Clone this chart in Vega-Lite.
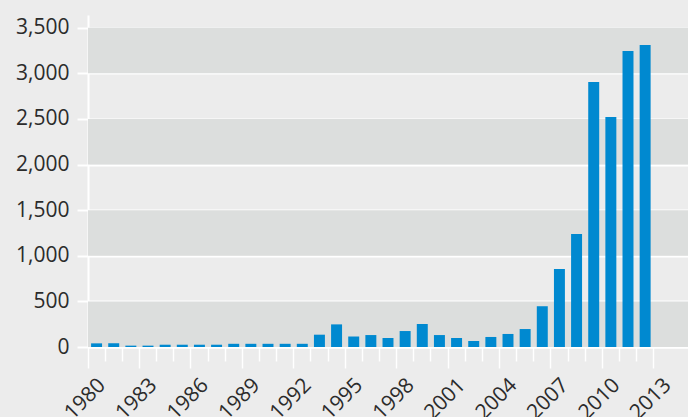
{
  "$schema": "https://vega.github.io/schema/vega-lite/v6.json",
  "width": 600,
  "height": 332,
  "autosize": {"type": "none"},
  "padding": {"left": 88, "top": 15, "right": 0, "bottom": 70},
  "background": "#ececec",
  "config": {
    "view": {"stroke": null, "fill": "#ececec"},
    "font": "Open Sans",
    "axis": {"labelFont": "Open Sans", "labelColor": "#2b2b2b"}
  },
  "datasets": {
    "counts": [
      {"year": 1980, "count": 40}, {"year": 1981, "count": 40}, {"year": 1982, "count": 15},
      {"year": 1983, "count": 15}, {"year": 1984, "count": 25}, {"year": 1985, "count": 25},
      {"year": 1986, "count": 25}, {"year": 1987, "count": 25}, {"year": 1988, "count": 35},
      {"year": 1989, "count": 35}, {"year": 1990, "count": 35}, {"year": 1991, "count": 35},
      {"year": 1992, "count": 35}, {"year": 1993, "count": 135}, {"year": 1994, "count": 248},
      {"year": 1995, "count": 115}, {"year": 1996, "count": 131}, {"year": 1997, "count": 99},
      {"year": 1998, "count": 175}, {"year": 1999, "count": 252}, {"year": 2000, "count": 131},
      {"year": 2001, "count": 99}, {"year": 2002, "count": 66}, {"year": 2003, "count": 110},
      {"year": 2004, "count": 143}, {"year": 2005, "count": 197}, {"year": 2006, "count": 447},
      {"year": 2007, "count": 855}, {"year": 2008, "count": 1239}, {"year": 2009, "count": 2906},
      {"year": 2010, "count": 2522}, {"year": 2011, "count": 3246}, {"year": 2012, "count": 3312}
    ],
    "bands": [
      {"lo": 0, "hi": 500}, {"lo": 1000, "hi": 1500}, {"lo": 2000, "hi": 2500}, {"lo": 3000, "hi": 3500}
    ]
  },
  "layer": [
    {
      "data": {"name": "bands"},
      "mark": {"type": "rect", "fill": "#dcdedd"},
      "encoding": {
        "y": {
          "field": "lo", "type": "quantitative",
          "scale": {"domain": [0, 3640], "nice": false},
          "axis": {
            "title": null,
            "values": [0, 500, 1000, 1500, 2000, 2500, 3000, 3500],
            "format": ",d",
            "labelFontSize": 21,
            "labelPadding": 8,
            "tickColor": "#ffffff",
            "tickWidth": 2,
            "tickSize": 11,
            "domainColor": "#ffffff",
            "domainWidth": 2,
            "grid": true,
            "gridColor": "#ffffff",
            "gridWidth": 2,
            "gridOpacity": 1
          }
        },
        "y2": {"field": "hi"}
      }
    },
    {
      "data": {"name": "counts"},
      "mark": {"type": "bar", "color": "#0089d0", "width": {"band": 0.64}},
      "encoding": {
        "x": {
          "field": "year", "type": "ordinal",
          "scale": {"domain": [1980,1981,1982,1983,1984,1985,1986,1987,1988,1989,1990,1991,1992,1993,1994,1995,1996,1997,1998,1999,2000,2001,2002,2003,2004,2005,2006,2007,2008,2009,2010,2011,2012,2013,2014], "paddingInner": 0, "paddingOuter": 0},
          "axis": {
            "title": null,
            "values": [1980,1981,1982,1983,1984,1985,1986,1987,1988,1989,1990,1991,1992,1993,1994,1995,1996,1997,1998,1999,2000,2001,2002,2003,2004,2005,2006,2007,2008,2009,2010,2011,2012,2013],
            "bandPosition": 0,
            "labelAngle": -45,
            "labelFontSize": 21,
            "labelExpr": "(datum.value - 1980) % 3 === 0 ? datum.label : ''",
            "labelPadding": 6,
            "labelOffset": -2,
            "tickColor": "#ffffff",
            "tickWidth": 1.5,
            "tickSize": {"condition": {"test": "(datum.value - 1980) % 3 === 0", "value": 21}, "value": 14},
            "domainColor": "#ffffff",
            "domainWidth": 2,
            "grid": false
          }
        },
        "y": {
          "field": "count", "type": "quantitative",
          "scale": {"domain": [0, 3640], "nice": false},
          "axis": {
            "title": null,
            "values": [0, 500, 1000, 1500, 2000, 2500, 3000, 3500],
            "format": ",d",
            "labelFontSize": 21,
            "labelPadding": 8,
            "tickColor": "#ffffff",
            "tickWidth": 2,
            "tickSize": 11,
            "domainColor": "#ffffff",
            "domainWidth": 2,
            "grid": true,
            "gridColor": "#ffffff",
            "gridWidth": 2,
            "gridOpacity": 1
          }
        }
      }
    }
  ]
}
